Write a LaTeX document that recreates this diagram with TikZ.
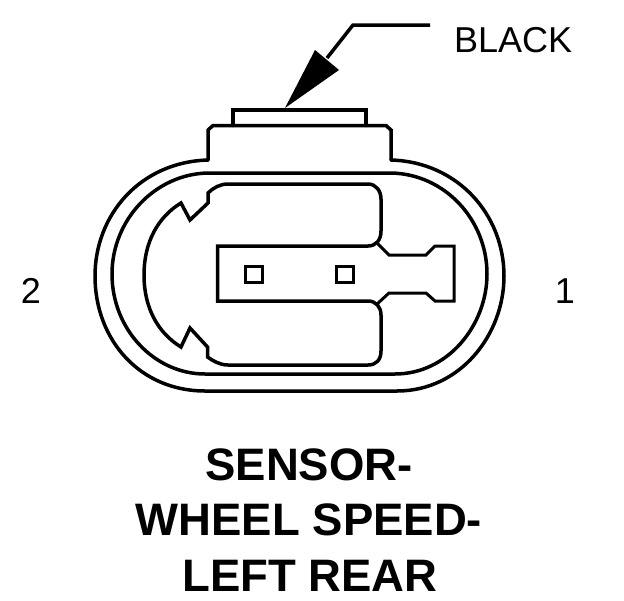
\documentclass[tikz,border=0pt]{standalone}
\usepackage{fontspec}
\setmainfont{Liberation Sans}
\tikzset{
  ln/.style={line width=3.5pt,line join=miter,line cap=round},
  thin ln/.style={line width=3pt,line join=miter},
  lab/.style={inner sep=0pt,anchor=base,font=\fontsize{36}{36}\selectfont},
  ttl/.style={inner sep=0pt,anchor=base,font=\fontsize{45.5}{45.5}\selectfont\bfseries}
}
\begin{document}
\begin{tikzpicture}[x=1pt,y=-1pt]
\useasboundingbox (0,0) rectangle (624,600);
\fill[white] (0,0) rectangle (624,600);
% outer shell
\draw[ln] (208,160) .. controls (140,162) and (95,215) .. (95,276)
  .. controls (95,340) and (140,391) .. (205,391) -- (397,391)
  .. controls (460,391) and (504,335) .. (504,276)
  .. controls (504,215) and (458,162) .. (391,160);
% inner shell
\draw[ln] (208,173) .. controls (155,174) and (112,220) .. (112,274)
  .. controls (112,330) and (155,374) .. (205,374) -- (395,374)
  .. controls (448,374) and (487,325) .. (487,274)
  .. controls (487,220) and (445,174) .. (391,173) -- cycle;
% top tabs
\draw[ln] (208,160) -- (208,130) -- (213,125.5) -- (386,125.5) -- (391,130) -- (391,160);
\draw[ln] (233,125.5) -- (233,110) -- (366,110) -- (366,125.5);
% body
\draw[ln] (228,184) -- (368,184) .. controls (376,184) and (381,191) .. (381,199)
  -- (381,231) .. controls (381,240) and (376,246) .. (368,246)
  -- (217.5,246) -- (217.5,301) -- (368,301)
  .. controls (376,301) and (381,307) .. (381,315)
  -- (381,351) .. controls (381,360) and (376,365) .. (368,365)
  -- (228,365) .. controls (220,365) and (213,361) .. (207.5,357)
  -- (207.5,347) -- (190,328) -- (181,347)
  .. controls (158,333) and (144,308) .. (144,275)
  .. controls (144,242) and (158,217) .. (181,203)
  -- (190,220) -- (208,203) -- (208,193)
  .. controls (213,188) and (220,184) .. (228,184) -- cycle;
% plug
\draw[thin ln] (377,243) -- (389,255) -- (426,255) -- (435,246) -- (454,246)
  -- (454,301) -- (435,301) -- (426,293) -- (389,293) -- (376,305);
% pins
\draw[thin ln] (245.5,266.5) rectangle (262.5,282.5);
\draw[thin ln] (336.5,266.5) rectangle (353,282.5);
% leader
\coordinate (tip) at (285,108);
\coordinate (bend) at (353,25);
\coordinate (free) at (430,25);
\draw[ln,line cap=butt] (free) -- (bend) -- (327,58);
\fill (tip) -- (315,50) -- (339,70) -- cycle;
% text
\node[lab,anchor=base west] (black) at (454,52) {BLACK};
\node[lab] (two) at (31,303) {2};
\node[lab] (one) at (565,303) {1};
\node[ttl] (t1) at (309,480) {SENSOR-};
\node[ttl] (t2) at (309,535) {WHEEL SPEED-};
\node[ttl] (t3) at (310,591) {LEFT REAR};
\end{tikzpicture}
\end{document}
